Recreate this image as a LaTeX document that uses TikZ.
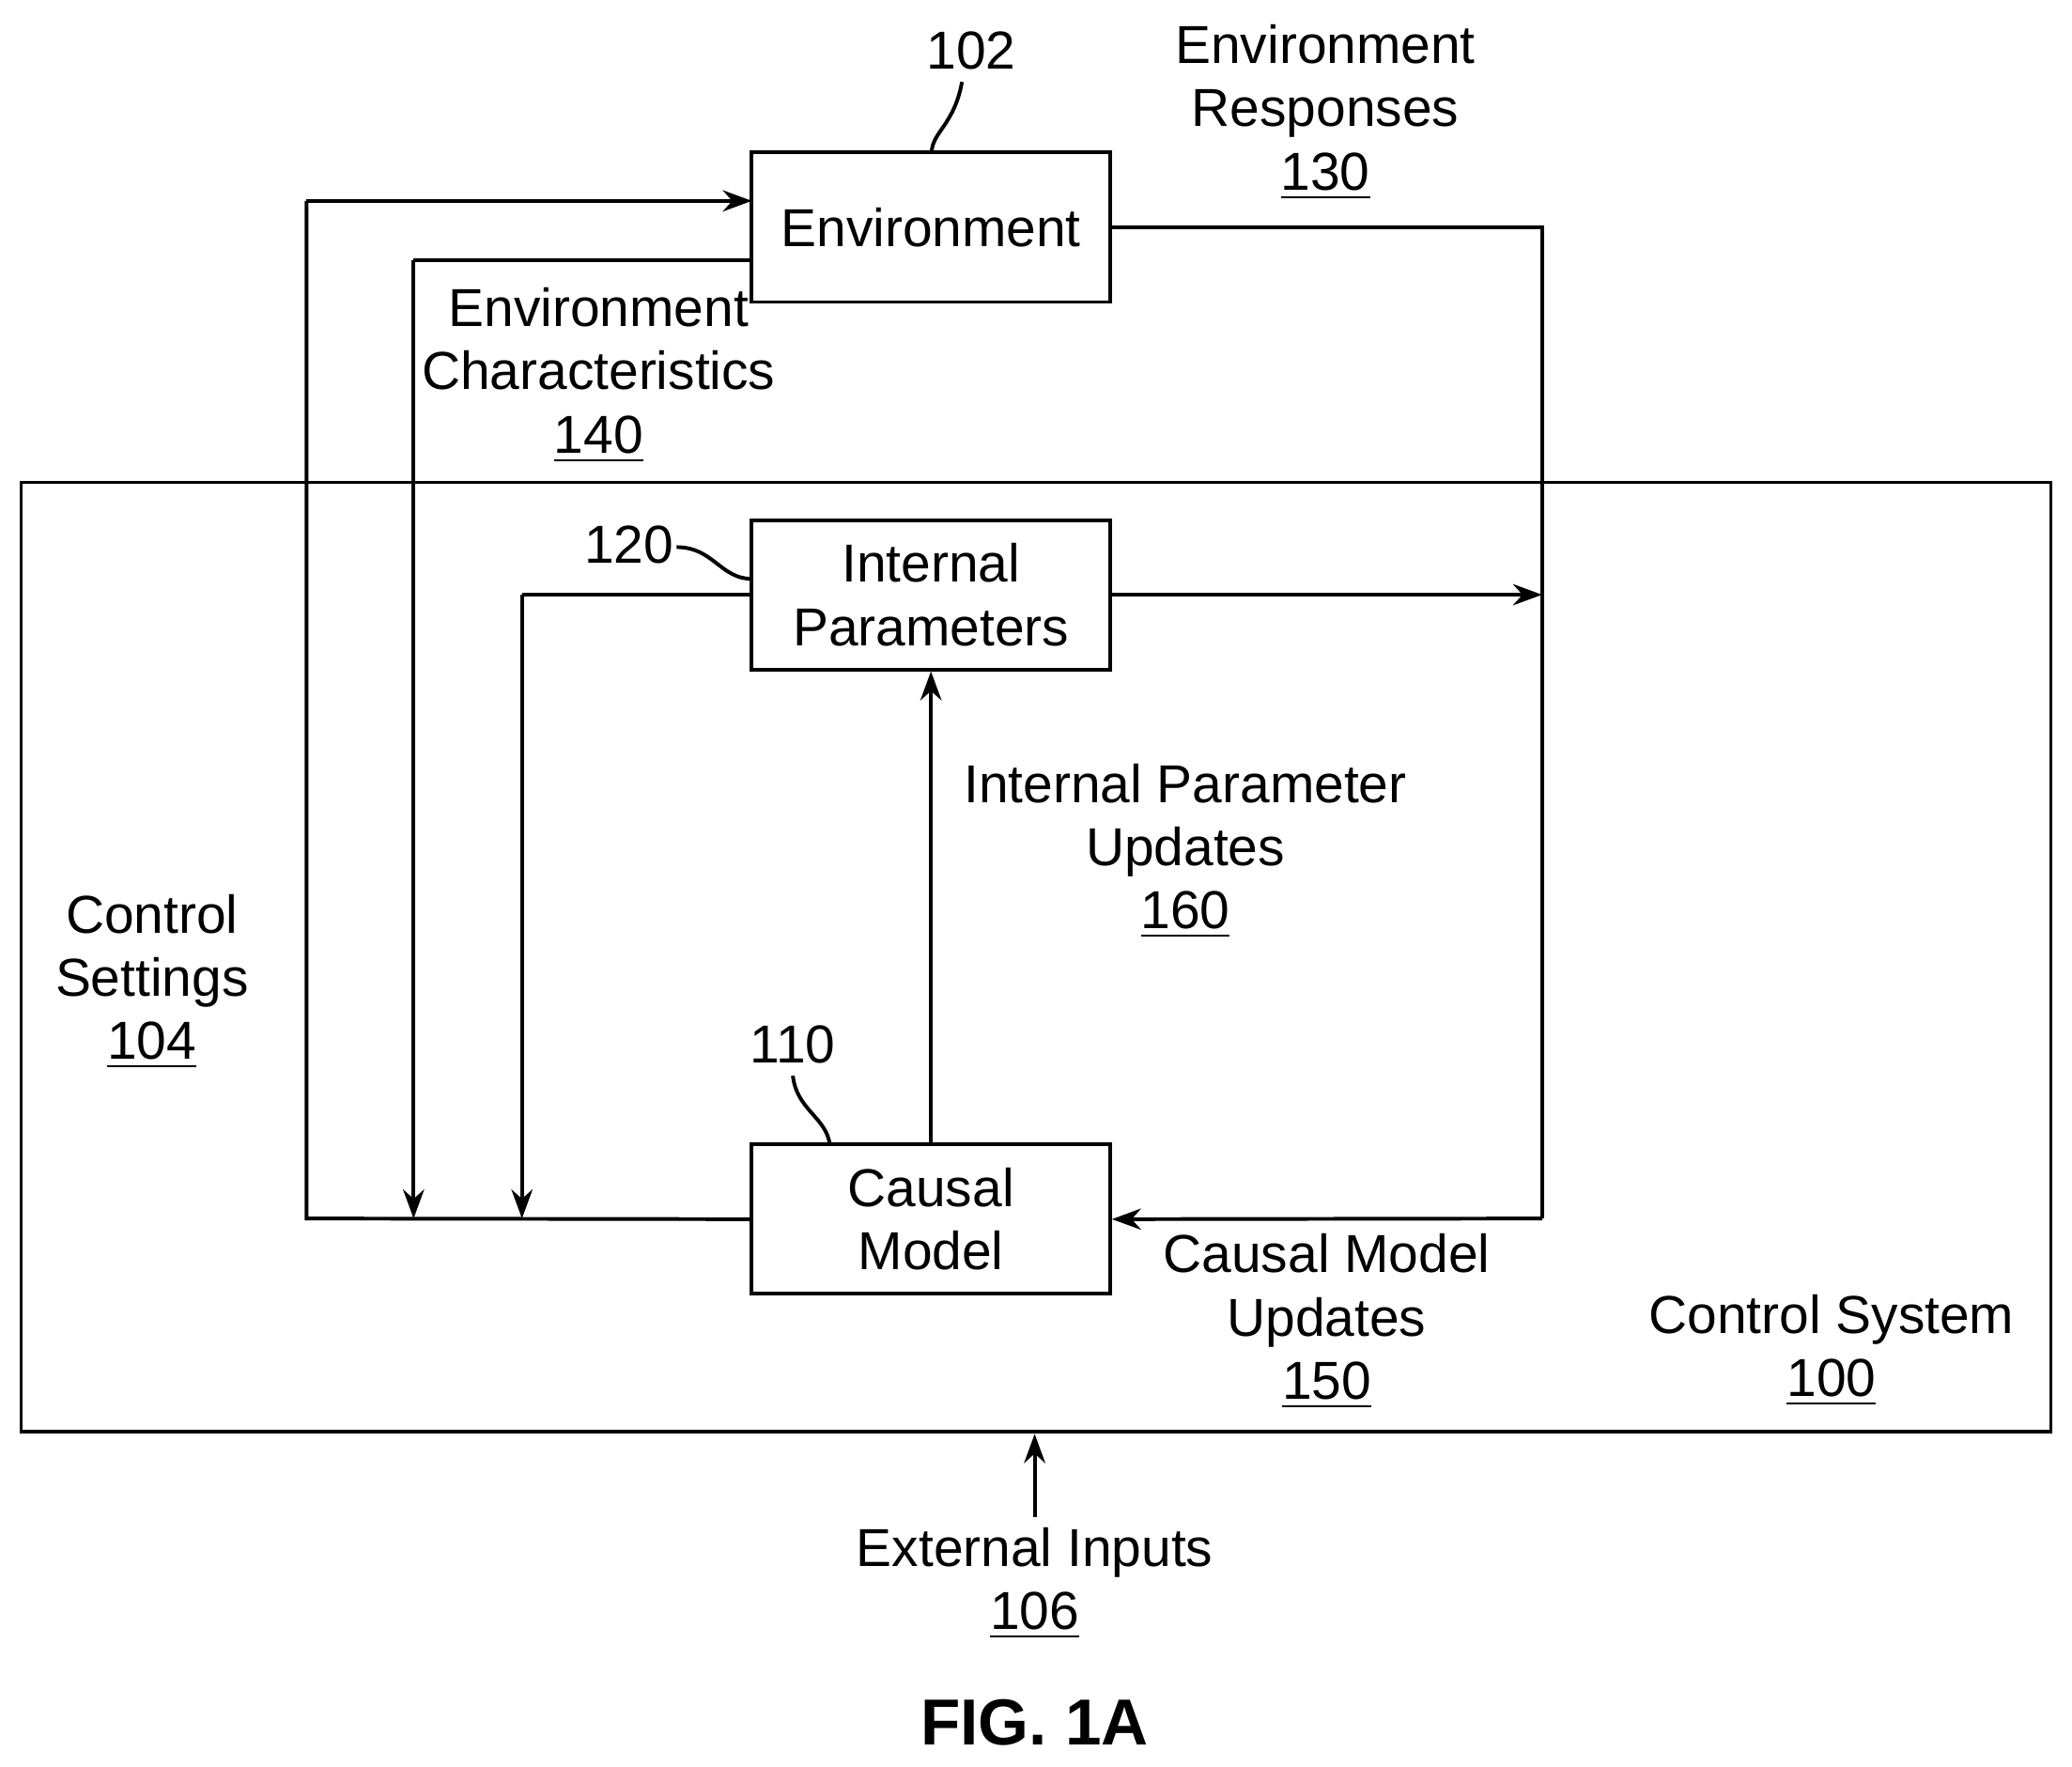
\documentclass[tikz,border=0pt]{standalone}
\usepackage{fontspec}
\setmainfont{Liberation Sans}
\usetikzlibrary{arrows.meta}
\tikzstyle{bloc} = [rectangle, draw=black, thick, minimum height=1.13cm, minimum width=2.71cm, text width=2.7cm, align=center, inner sep=0pt]
\tikzstyle{lbl} = [align=center, inner sep=0pt]
\tikzstyle{fl} = [-{Stealth[length=2.2mm,width=1.6mm]}, thick]

\begin{document}
\begin{tikzpicture}[x=0.01cm, y=-0.01cm, font=\fontsize{11.5}{13.6}\selectfont]
    \useasboundingbox (0,0) rectangle (1568,1337);

    %% control system
    \draw[thick] (16,365) rectangle (1552,1083);
    \node[lbl] (sys) at (1386,1022) {Control System\\\underline{100}};

    %% blocs
    \node (env) [bloc] at (704.5,172) {Environment};
    \node (param) [bloc] at (704.5,450) {Internal\\Parameters};
    \node (causal) [bloc] at (704.5,922.5) {Causal\\Model};

    %% references
    \node[lbl] (n102) at (735,38) {102};
    \draw[thick] (705,116) .. controls (705,100) and (722,95) .. (728,62);
    \node[lbl] (n120) at (476,412) {120};
    \draw[thick] (512,414) .. controls (540,414) and (545,438) .. (569,438);
    \node[lbl] (n110) at (600,790) {110};
    \draw[thick] (600,814) .. controls (603,840) and (625,845) .. (628,866);

    %% environment responses
    \coordinate (cR1) at (1167,172);
    \coordinate (cR2) at (1167,922);
    \coordinate (cP) at (1167,450);
    \draw[thick] (env.east) -- (cR1) -- (cR2);
    \draw[fl] (cR2) -- (causal.east);
    \draw[fl] (param.east) -- (cP);
    \node[lbl] (resp) at (1003,85) {Environment\\Responses\\\underline{130}};
    \node[lbl] (maj) at (1004,1000) {Causal Model\\Updates\\\underline{150}};

    %% control settings
    \coordinate (cC1) at (232,922);
    \coordinate (cC2) at (232,152);
    \draw[thick] (causal.west) -- (cC1) -- (cC2);
    \draw[fl] (cC2) -- (569,152);
    \node[lbl] (settings) at (115,743) {Control\\Settings\\\underline{104}};

    %% environment characteristics
    \coordinate (cE1) at (313,197);
    \coordinate (cE2) at (313,922);
    \draw[thick] (569,197) -- (cE1);
    \draw[fl] (cE1) -- (cE2);
    \node[lbl] (carac) at (453,284) {Environment\\Characteristics\\\underline{140}};

    %% internal parameters
    \coordinate (cI1) at (395,450);
    \coordinate (cI2) at (395,922);
    \draw[thick] (param.west) -- (cI1);
    \draw[fl] (cI1) -- (cI2);
    \draw[fl] (causal.north) -- (param.south);
    \node[lbl] (upd) at (897,644) {Internal Parameter\\Updates\\\underline{160}};

    %% external inputs
    \coordinate (cX) at (783,1148);
    \draw[fl] (cX) -- (783,1085);
    \node[lbl] (ext) at (783,1198) {External Inputs\\\underline{106}};

    \node[lbl, font=\fontsize{14}{16}\selectfont\bfseries] (fig) at (783,1303) {FIG. 1A};
\end{tikzpicture}
\end{document}
